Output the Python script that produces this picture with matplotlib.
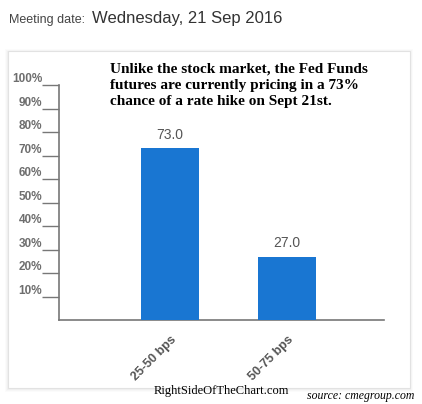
import matplotlib
matplotlib.use("Agg")
import matplotlib.pyplot as plt
from matplotlib.patches import Rectangle

categories = ["25-50 bps", "50-75 bps"]
values = [73.0, 27.0]
ytick_values = [10, 20, 30, 40, 50, 60, 70, 80, 90, 100]
ytick_labels = ["10%", "20%", "30%", "40%", "50%", "60%", "70%", "80%", "90%", "100%"]

W, H = 422, 404
fig = plt.figure(figsize=(W / 100, H / 100), dpi=100)
fig.patch.set_facecolor("white")

def fx(px):
    return px / W

def fy(py):
    return 1 - py / H

# card with soft shadow
for i, a in enumerate([0.015, 0.02, 0.025]):
    d = 3 - i
    fig.patches.append(Rectangle((fx(8 - d), fy(388 + d + 1)), fx(402 + 2 * d), (388 - 51 + 2 * d) / H,
                                 transform=fig.transFigure, facecolor="black", alpha=a,
                                 edgecolor="none", zorder=0))
fig.patches.append(Rectangle((fx(8), fy(388)), fx(402), (388 - 51) / H,
                             transform=fig.transFigure, facecolor="white",
                             edgecolor="#e2e2e2", linewidth=0.8, zorder=0.5))

# header
fig.text(fx(9), fy(20), "Meeting date:", fontsize=9, color="#444444",
         family="Liberation Sans", va="center", ha="left")
fig.text(fx(92), fy(19), "Wednesday, 21 Sep 2016", fontsize=12, color="#333333",
         family="Liberation Sans", va="center", ha="left")

ax = fig.add_axes([fx(59), fy(320), fx(384 - 59), (320 - 85) / H])
ax.set_facecolor("none")
ax.set_zorder(2)

x = list(range(len(categories)))
bars = ax.bar(x, values, width=0.496, color="#1976d2", zorder=3)
ax.set_xlim(-0.949, 1.829)
ax.set_ylim(0, 100)

for b, v in zip(bars, values):
    ax.annotate(f"{v:.1f}", (b.get_x() + b.get_width() / 2, v), xytext=(0, 5),
                textcoords="offset points", ha="center", va="bottom",
                fontsize=10, color="#555555", family="Liberation Sans")

for s in ["top", "right"]:
    ax.spines[s].set_visible(False)
ax.spines["left"].set_color("#777777")
ax.spines["bottom"].set_color("#777777")
ax.spines["left"].set_linewidth(1.2)
ax.spines["bottom"].set_linewidth(1.2)

ax.set_yticks(ytick_values)
ax.set_yticklabels(ytick_labels)
ax.tick_params(axis="y", length=12, width=1.0, color="#777777", pad=0,
               labelsize=8.5, labelcolor="#6e6e6e")
for lab in ax.get_yticklabels():
    lab.set_va("bottom")
    lab.set_family("Liberation Sans")
    lab.set_fontweight("bold")

ax.set_xticks(x)
ax.set_xticklabels(categories)
ax.tick_params(axis="x", length=0, pad=10, labelsize=9, labelcolor="#555555")
for lab in ax.get_xticklabels():
    lab.set_rotation(45)
    lab.set_ha("right")
    lab.set_va("top")
    lab.set_rotation_mode("anchor")
    lab.set_family("Liberation Sans")
    lab.set_fontweight("bold")

# annotation
fig.text(fx(110), fy(63),
         "Unlike the stock market, the Fed Funds\nfutures are currently pricing in a 73%\nchance of a rate hike on Sept 21st.",
         fontsize=11, fontweight="bold", family="Liberation Serif", color="black",
         va="top", ha="left", linespacing=1.32, zorder=5)

fig.text(fx(221), fy(391), "RightSideOfTheChart.com", fontsize=9, family="Liberation Serif",
         color="black", ha="center", va="center", zorder=5)
fig.text(fx(414), fy(396), "source: cmegroup.com", fontsize=8.5, family="Liberation Serif",
         style="italic", color="black", ha="right", va="center", zorder=5)

fig.savefig("out.png", dpi=100, facecolor="white")
